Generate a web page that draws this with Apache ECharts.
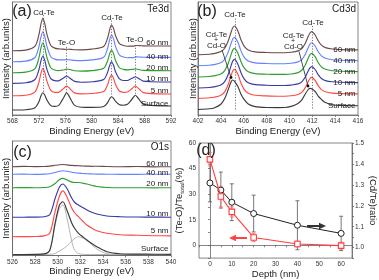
<!DOCTYPE html>
<html><head><meta charset="utf-8">
<script src="https://cdn.jsdelivr.net/npm/echarts@6/dist/echarts.min.js"></script>
<style>html,body{margin:0;padding:0;background:#fff}#c{width:379px;height:280px}</style>
</head><body><div id="c"></div>
<script>
// ---------- DATA ----------
// (a) Te3d spectra (binding energy in eV, intensity in arb. units, stacked)
const aX = [568, 570, 571.4, 572.0, 572.3, 572.6, 572.9, 573.2, 573.8, 574.4, 575.0, 575.5, 575.9, 576.2, 576.5, 576.9, 577.4, 578.4, 580, 581.8, 582.4, 582.7, 583.0, 583.3, 583.6, 584.2, 584.8, 585.4, 585.9, 586.3, 586.6, 586.9, 587.3, 587.8, 589, 592];
const a60 = [64.3, 64.9, 68.8, 80.3, 90.7, 96.7, 91.0, 81.0, 69.5, 66.9, 66.1, 65.9, 65.7, 65.8, 65.8, 65.6, 65.3, 65.2, 65.9, 68.5, 77.0, 84.9, 90.0, 86.5, 79.5, 71.3, 69.5, 68.8, 68.9, 68.9, 69.3, 69.5, 69.4, 69.1, 69.0, 69.0];
const a40 = [53.3, 53.9, 57.5, 68.2, 77.9, 83.3, 78.2, 68.9, 58.2, 55.9, 55.1, 55.2, 55.1, 55.4, 55.3, 55.0, 54.6, 54.4, 55.1, 57.8, 66.8, 75.0, 80.0, 76.1, 68.6, 59.9, 58.0, 57.3, 57.4, 57.4, 57.9, 58.1, 58.0, 57.8, 57.7, 57.7];
const a20 = [42.3, 42.9, 46.4, 57.1, 66.8, 72.3, 67.1, 57.8, 47.2, 45.0, 44.4, 44.9, 45.3, 46.0, 45.7, 45.1, 44.3, 43.9, 44.4, 46.7, 54.3, 61.1, 65.0, 61.3, 54.7, 47.2, 45.6, 45.1, 45.5, 45.7, 46.0, 45.8, 45.2, 44.6, 44.4, 44.3];
const a10 = [31.7, 32.2, 35.5, 45.2, 54.0, 59.0, 54.3, 45.9, 36.4, 34.4, 34.2, 36.1, 37.8, 39.0, 37.9, 35.8, 33.6, 32.8, 33.2, 35.4, 42.8, 49.4, 53.3, 49.7, 43.3, 36.1, 34.5, 34.5, 36.1, 37.3, 38.3, 37.3, 35.7, 33.9, 33.3, 33.0];
const a5 = [19.3, 19.8, 23.1, 32.7, 41.6, 46.7, 42.3, 34.1, 24.6, 22.7, 22.7, 25.2, 27.5, 29.0, 27.6, 24.9, 22.1, 21.1, 21.5, 23.4, 30.3, 36.5, 40.1, 36.6, 30.6, 24.0, 22.7, 23.0, 25.4, 27.6, 29.0, 27.6, 25.0, 22.4, 21.4, 21.0];
const aS = [5.0, 5.3, 7.3, 13.3, 18.9, 22.3, 19.8, 15.1, 9.4, 8.6, 9.6, 14.6, 19.3, 22.3, 19.6, 14.8, 9.6, 7.8, 7.6, 8.5, 12.4, 16.0, 18.3, 16.7, 13.8, 10.3, 9.8, 10.7, 14.2, 17.6, 19.8, 17.9, 14.5, 10.9, 9.6, 9.0];

// (b) Cd3d spectra
const bX = [402, 403, 403.4, 404.0, 404.35, 404.65, 404.9, 405.05, 405.2, 405.5, 405.75, 406.05, 406.4, 407.0, 408.0, 409.0, 409.6, 410.15, 410.75, 411.1, 411.4, 411.65, 411.8, 411.95, 412.25, 412.5, 412.8, 413.15, 413.75, 414.5, 416];
const b60 = [60.3, 60.8, 61.4, 63.4, 67.0, 74.2, 83.0, 87.5, 89.0, 83.7, 75.5, 68.6, 65.1, 63.1, 62.5, 62.3, 62.3, 62.7, 64.1, 66.7, 72.0, 78.7, 82.0, 83.4, 80.0, 74.5, 69.8, 67.4, 66.0, 65.4, 65.1];
const b40 = [49.3, 49.8, 50.4, 52.3, 56.0, 63.1, 71.7, 76.2, 77.7, 72.4, 64.4, 57.6, 54.0, 52.1, 51.5, 51.3, 51.3, 51.7, 53.1, 55.7, 61.0, 67.6, 70.9, 72.3, 69.0, 63.7, 59.1, 56.7, 55.3, 54.7, 54.4];
const b20 = [38.0, 38.5, 39.1, 41.0, 44.7, 51.8, 60.6, 65.1, 66.7, 61.5, 53.6, 46.9, 43.3, 41.4, 40.8, 40.6, 40.6, 41.0, 42.4, 45.0, 50.3, 57.0, 60.3, 61.7, 58.3, 52.8, 48.1, 45.7, 44.3, 43.7, 43.4];
const b10 = [27.0, 27.5, 28.1, 30.0, 33.7, 40.8, 49.6, 54.1, 55.7, 50.5, 42.6, 35.9, 32.3, 30.4, 29.8, 29.5, 29.5, 29.9, 31.1, 33.4, 38.2, 44.2, 47.1, 48.4, 45.5, 40.7, 36.5, 34.4, 33.2, 32.7, 32.4];
const b5 = [16.6, 17.2, 17.7, 19.7, 23.4, 30.7, 39.6, 44.2, 45.7, 40.4, 32.2, 25.3, 21.7, 19.7, 19.1, 18.8, 18.8, 19.2, 20.5, 22.8, 27.6, 33.5, 36.5, 37.7, 34.6, 29.6, 25.4, 23.2, 21.9, 21.4, 21.1];
const bS = [5.4, 6.2, 7.0, 10.8, 16.7, 25.7, 33.3, 35.0, 33.6, 28.2, 21.1, 15.4, 11.1, 8.4, 7.5, 7.4, 7.5, 8.6, 11.4, 15.3, 21.3, 25.5, 26.7, 26.3, 23.5, 19.1, 15.6, 12.4, 10.3, 9.6, 9.2];

// (c) O1s spectra
const cX = [526, 527, 528, 528.8, 529.3, 529.76, 530.15, 530.45, 530.8, 531.24, 531.5, 531.83, 532.2, 532.57, 533.0, 533.45, 534.34, 535.5, 537, 538.5, 540];
const c60 = [88.8, 89.2, 88.9, 89.0, 89.4, 90.2, 90.8, 91.0, 90.6, 90.1, 89.9, 89.8, 89.5, 89.4, 89.2, 89.3, 89.0, 88.8, 89.0, 88.7, 88.8];
const c40 = [81.2, 81.4, 81.2, 81.4, 81.8, 83.0, 84.2, 84.8, 84.3, 83.2, 82.8, 82.4, 82.0, 81.8, 81.6, 81.4, 81.3, 81.2, 81.2, 81.3, 81.2];
const c20 = [67.8, 67.9, 67.8, 68.0, 68.8, 72.0, 76.0, 77.2, 75.6, 73.4, 73.0, 73.0, 72.4, 71.5, 70.2, 69.0, 68.0, 67.8, 67.8, 67.7, 67.8];
const c10 = [38.2, 38.3, 38.4, 38.8, 41.0, 57.0, 68.6, 71.5, 67.2, 57.2, 53.0, 50.5, 48.0, 45.5, 43.2, 41.5, 39.5, 38.8, 38.5, 38.4, 38.3];
const c5 = [18.8, 18.9, 19.0, 19.6, 22.5, 43.8, 59.5, 64.6, 58.8, 47.2, 42.5, 38.8, 34.5, 30.5, 27.4, 24.8, 22.2, 20.8, 20.2, 19.8, 19.6];
const cS = [1.0, 1.0, 1.1, 1.6, 5.5, 32.2, 50.5, 53.8, 45.5, 32.2, 27.0, 22.2, 18.8, 15.5, 12.0, 8.8, 3.8, 1.8, 1.4, 1.3, 1.2];
const cFit1 = [1.0, 1.0, 1.0, 1.4, 5.0, 30.0, 47.0, 50.5, 38.0, 14.0, 5.0, 2.0, 1.2, 1.0, 1.0, 1.0, 1.0, 1.0, 1.0, 1.0, 1.0];
const cFit2 = [1.0, 1.0, 1.0, 1.0, 1.2, 2.0, 4.5, 6.5, 9.5, 14.5, 17.0, 18.8, 17.5, 15.0, 11.0, 6.5, 1.8, 1.1, 1.0, 1.0, 1.0];

// (d) depth profile
const depth = [0, 5, 10, 20, 40, 60];
const teORatio = [50.4, 28.6, 19.6, 4.6, 0.8, -0.2];
const teOErr = [4, 6, 3, 2.4, 1.7, 2];
const cdTeRatio = [1.309, 1.275, 1.217, 1.163, 1.107, 1.068];
const cdTeErr = [0.09, 0.086, 0.088, 0.088, 0.117, 0.082];

const depthLabels = ['60 nm', '40 nm', '20 nm', '10 nm', '5 nm', 'Surface'];

// ---------- STYLE / LAYOUT ----------
const FONT = 'Liberation Sans, Arial, sans-serif';
const COLORS = ['#6e4b4b', '#6682ff', '#2f9e2f', '#3a3aa6', '#ff4848', '#3a3a3a'];
const TXT = '#222';

function pairs(xs, ys) { return xs.map((x, i) => [x, ys[i]]); }

function spectra(xs, sets, gi, guides) {
  return sets.map((ys, i) => {
    const s = {
      type: 'line', xAxisIndex: gi, yAxisIndex: gi, data: pairs(xs, ys),
      showSymbol: false, symbol: 'none', smooth: 0.3, silent: true,
      lineStyle: { color: COLORS[i], width: 1.15 }, z: 3
    };
    if (i === sets.length - 1 && guides) {
      s.markLine = {
        silent: true, symbol: ['none', 'none'], label: { show: false },
        lineStyle: { type: [1.2, 1.6], color: '#555', width: 0.8 },
        data: guides.map(g => [{ coord: [g[0], g[1]] }, { coord: [g[0], g[2]] }])
      };
    }
    return s;
  });
}

const aGuides = [[572.6, 100, 22], [576.2, 68, 22], [583.0, 94.5, 18.3], [586.6, 70, 19.5]];
const bGuides = [[405.25, 96.5, 5], [412.0, 89, 5]];

const axisCommon = {
  type: 'value',
  axisLine: { show: true, lineStyle: { color: '#666', width: 0.8 } },
  axisTick: { show: true, inside: false, length: 2, lineStyle: { color: '#666', width: 0.8 } },
  splitLine: { show: false },
  axisLabel: { fontSize: 6.5, color: '#333', fontFamily: FONT, margin: 3 },
  nameTextStyle: { fontSize: 9.5, color: TXT, fontFamily: FONT },
  nameLocation: 'middle'
};
const yHidden = {
  type: 'value',
  axisLine: { show: true, lineStyle: { color: '#666', width: 0.8 } },
  axisTick: { show: false }, axisLabel: { show: false }, splitLine: { show: false },
  name: 'Intensity (arb.units)', nameLocation: 'middle', nameRotate: 90,
  nameTextStyle: { fontSize: 9.5, color: TXT, fontFamily: FONT }
};

function errItem(color) {
  return function (params, api) {
    const x = api.value(0), y = api.value(1), e = api.value(2);
    const p1 = api.coord([x, y + e]), p2 = api.coord([x, y - e]);
    const w = 2;
    const st = { stroke: color, lineWidth: 0.8 };
    return {
      type: 'group', children: [
        { type: 'line', shape: { x1: p1[0], y1: p1[1], x2: p2[0], y2: p2[1] }, style: st },
        { type: 'line', shape: { x1: p1[0] - w, y1: p1[1], x2: p1[0] + w, y2: p1[1] }, style: st },
        { type: 'line', shape: { x1: p2[0] - w, y1: p2[1], x2: p2[0] + w, y2: p2[1] }, style: st }
      ]
    };
  };
}

function T(text, x, y, size, align) {
  return {
    type: 'text', x: x, y: y, silent: true, z: 20,
    style: { text: text, fontSize: size, fontFamily: FONT, fill: TXT, align: align || 'center', verticalAlign: 'middle' }
  };
}
function L(x1, y1, x2, y2, color, w) {
  return { type: 'line', silent: true, z: 20, shape: { x1, y1, x2, y2 }, style: { stroke: color, lineWidth: w } };
}

const graphics = [];
// panel letters and titles
graphics.push(T('(a)', 22, 12, 16), T('Te3d', 169, 9, 10, 'right'));
graphics.push(T('(b)', 207, 12, 16), T('Cd3d', 356, 9, 10, 'right'));
graphics.push(T('(c)', 22.5, 152.5, 16), T('O1s', 169, 147.5, 10, 'right'));
graphics.push(T('(d)', 206, 151, 16));
// peak labels
graphics.push(T('Cd-Te', 44, 12.5, 8), T('Te-O', 66.5, 42.5, 8), T('Cd-Te', 112, 17.5, 8), T('Te-O', 134.7, 40, 8));
graphics.push(T('Cd-Te', 235, 14.5, 8), T('Cd-Te', 313, 22.5, 8));
graphics.push(T('Cd-Te', 216.5, 34.5, 8), T('+', 216, 40, 7), T('Cd-O', 216.5, 45.5, 8));
graphics.push(T('Cd-Te', 293.5, 36, 8), T('+', 293, 41.5, 7), T('Cd-O', 293.5, 47, 8));
graphics.push(L(222, 50, 231, 77.5, '#222', 0.8), L(299, 51.5, 308, 86, '#222', 0.8));
graphics.push({ type: 'circle', silent: true, z: 21, shape: { cx: 231, cy: 77.5, r: 1.4 }, style: { fill: '#111' } });
graphics.push({ type: 'circle', silent: true, z: 21, shape: { cx: 308, cy: 86, r: 1.4 }, style: { fill: '#111' } });
// curve labels
const aLabY = [42.3, 56.7, 67.3, 79, 90.7, 103.3];
const bLabY = [50, 61, 71.7, 82.7, 94, 106];
const cLabY = [163.3, 172.3, 183.3, 213.3, 230.7, 248.3];
depthLabels.forEach((t, i) => {
  graphics.push(T(t, 168.5, aLabY[i], 8, 'right'));
  graphics.push(T(t, 355.5, bLabY[i], 8, 'right'));
  graphics.push(T(t, 168.5, cLabY[i], 8, 'right'));
});
// arrows in (d)
graphics.push(L(307, 226, 320, 226, '#333', 2));
graphics.push({ type: 'polygon', silent: true, z: 20, shape: { points: [[326, 226], [319, 222.8], [319, 229.2]] }, style: { fill: '#333' } });
graphics.push(L(247, 238, 235, 238, '#ff4444', 2));
graphics.push({ type: 'polygon', silent: true, z: 20, shape: { points: [[229, 238], [236, 234.8], [236, 241.2]] }, style: { fill: '#ff4444' } });

const series = []
  .concat(spectra(aX, [a60, a40, a20, a10, a5, aS], 0, aGuides))
  .concat(spectra(bX, [b60, b40, b20, b10, b5, bS], 1, bGuides))
  .concat(spectra(cX, [c60, c40, c20, c10, c5, cS], 2, null));
series.push({ type: 'line', xAxisIndex: 2, yAxisIndex: 2, data: pairs(cX, cFit1), showSymbol: false, symbol: 'none', smooth: 0.3, lineStyle: { color: '#b4b4b4', width: 1 }, z: 2 });
series.push({ type: 'line', xAxisIndex: 2, yAxisIndex: 2, data: pairs(cX, cFit2), showSymbol: false, symbol: 'none', smooth: 0.3, lineStyle: { color: '#b4b4b4', width: 1 }, z: 2 });
// (d)
series.push({ type: 'custom', xAxisIndex: 3, yAxisIndex: 4, renderItem: errItem('#555'), encode: { x: 0, y: 1 }, data: depth.map((d, i) => [d, cdTeRatio[i], cdTeErr[i]]), z: 2, silent: true });
series.push({ type: 'custom', xAxisIndex: 3, yAxisIndex: 3, renderItem: errItem('#ff6a6a'), encode: { x: 0, y: 1 }, data: depth.map((d, i) => [d, teORatio[i], teOErr[i]]), z: 2, silent: true });
series.push({ type: 'line', xAxisIndex: 3, yAxisIndex: 4, data: pairs(depth, cdTeRatio), symbol: 'circle', symbolSize: 6, showSymbol: true, silent: true, lineStyle: { color: '#222', width: 1 }, itemStyle: { color: '#fff', borderColor: '#222', borderWidth: 1 }, z: 4 });
series.push({ type: 'line', xAxisIndex: 3, yAxisIndex: 3, data: pairs(depth, teORatio), symbol: 'rect', symbolSize: 5.5, showSymbol: true, silent: true, lineStyle: { color: '#ff3c3c', width: 1.1 }, itemStyle: { color: '#fff', borderColor: '#ff3c3c', borderWidth: 1.1 }, z: 5 });

const gridBox = { show: true, borderColor: '#666', borderWidth: 0.8, containLabel: false };
const option = {
  animation: false,
  backgroundColor: '#fff',
  textStyle: { fontFamily: FONT },
  grid: [
    Object.assign({ left: 12, top: 2, width: 159, height: 113 }, gridBox),
    Object.assign({ left: 198, top: 2, width: 160, height: 113 }, gridBox),
    Object.assign({ left: 12, top: 141, width: 159, height: 114.5 }, gridBox),
    Object.assign({ left: 199, top: 143, width: 159, height: 117 }, gridBox)
  ],
  xAxis: [
    Object.assign({}, axisCommon, { gridIndex: 0, min: 568, max: 592, interval: 4, name: 'Binding Energy (eV)', nameGap: 11 }),
    Object.assign({}, axisCommon, { gridIndex: 1, min: 402, max: 416, interval: 2, name: 'Binding Energy (eV)', nameGap: 11 }),
    Object.assign({}, axisCommon, { gridIndex: 2, min: 526, max: 540, interval: 2, name: 'Binding Energy (eV)', nameGap: 11 }),
    Object.assign({}, axisCommon, {
      gridIndex: 3, min: -5, max: 65, interval: 5, name: 'Depth (nm)', nameGap: 8,
      axisLabel: Object.assign({}, axisCommon.axisLabel, { formatter: v => (Math.abs(v % 10) < 1e-6 ? String(v) : '') })
    })
  ],
  yAxis: [
    Object.assign({}, yHidden, { gridIndex: 0, min: 0, max: 113, nameGap: 1.5 }),
    Object.assign({}, yHidden, { gridIndex: 1, min: 0, max: 113, nameGap: 0 }),
    Object.assign({}, yHidden, { gridIndex: 2, min: 0, max: 114.5, nameGap: 1.5 }),
    Object.assign({}, axisCommon, {
      gridIndex: 3, min: -7.5, max: 60, interval: 7.5, position: 'left',
      name: '(Te-O)/Te{s|total}(%)', nameRotate: 90, nameGap: 8.5,
      nameTextStyle: { fontSize: 9.5, color: TXT, fontFamily: FONT, rich: { s: { fontSize: 6, verticalAlign: 'bottom', fontFamily: FONT, color: TXT } } },
      axisLabel: Object.assign({}, axisCommon.axisLabel, { formatter: v => (Math.abs(v % 15) < 1e-6 ? String(v) : '') })
    }),
    Object.assign({}, axisCommon, {
      gridIndex: 3, min: 0.95, max: 1.5, interval: 0.05, position: 'right',
      name: '(Cd/Te)ratio', nameRotate: -90, nameGap: 8.5,
      axisLabel: Object.assign({}, axisCommon.axisLabel, {
        formatter: v => { const t = v * 10; return Math.abs(t - Math.round(t)) < 1e-6 ? v.toFixed(1) : ''; }
      })
    })
  ],
  series: series,
  graphic: graphics
};

const chart = echarts.init(document.getElementById('c'), null, { renderer: 'canvas' });
chart.setOption(option);
</script></body></html>
